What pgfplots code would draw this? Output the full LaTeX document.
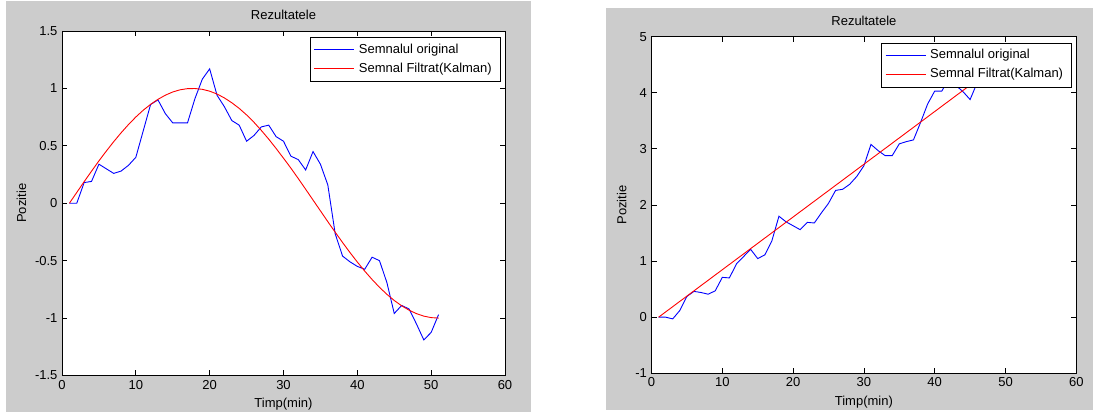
\documentclass[border=0pt]{standalone}
\usepackage{pgfplots}
\pgfplotsset{compat=1.18}
\usepackage{pgfplotstable}
\usepackage{fontspec}
\setmainfont{Liberation Sans}
\definecolor{figgray}{RGB}{204,204,204}

% left figure: noisy sine and its Kalman estimate
\pgfplotstableread{
x y
1 0
2 0
3 0.18
4 0.19
5 0.34
6 0.30
7 0.26
8 0.28
9 0.33
10 0.40
11 0.63
12 0.86
13 0.90
14 0.78
15 0.70
16 0.70
17 0.70
18 0.91
19 1.08
20 1.17
21 0.94
22 0.84
23 0.72
24 0.68
25 0.54
26 0.59
27 0.665
28 0.68
29 0.58
30 0.54
31 0.41
32 0.38
33 0.29
34 0.45
35 0.34
36 0.16
37 -0.265
38 -0.46
39 -0.51
40 -0.55
41 -0.575
42 -0.47
43 -0.50
44 -0.69
45 -0.96
46 -0.89
47 -0.92
48 -1.05
49 -1.19
50 -1.125
51 -0.97
}\leftorig

\pgfplotstableread{
x y
1 0
2 0.094
3 0.188
4 0.279
5 0.369
6 0.454
7 0.536
8 0.613
9 0.685
10 0.751
11 0.810
12 0.861
13 0.905
14 0.941
15 0.969
16 0.988
17 0.998
18 0.999
19 0.992
20 0.976
21 0.951
22 0.917
23 0.875
24 0.826
25 0.769
26 0.705
27 0.634
28 0.558
29 0.477
30 0.392
31 0.306
32 0.215
33 0.122
34 0.028
35 -0.066
36 -0.160
37 -0.252
38 -0.342
39 -0.429
40 -0.512
41 -0.591
42 -0.664
43 -0.732
44 -0.793
45 -0.847
46 -0.893
47 -0.931
48 -0.961
49 -0.983
50 -0.996
51 -1.000
}\leftkal

% right figure: noisy ramp and its Kalman estimate
\pgfplotstableread{
x y
1 0
2 0
3 -0.03
4 0.12
5 0.37
6 0.46
7 0.44
8 0.41
9 0.47
10 0.71
11 0.70
12 0.95
13 1.08
14 1.21
15 1.045
16 1.11
17 1.36
18 1.80
19 1.70
20 1.63
21 1.56
22 1.69
23 1.68
24 1.86
25 2.03
26 2.26
27 2.28
28 2.37
29 2.51
30 2.70
31 3.08
32 2.97
33 2.88
34 2.88
35 3.09
36 3.13
37 3.16
38 3.47
39 3.80
40 4.03
41 4.03
42 4.25
43 4.13
44 4.02
45 3.88
46 4.18
47 4.35
48 4.45
49 4.55
50 4.62
51 4.70
}\rightorig

\pgfplotstableread{
x y
1 0
2 0.094
3 0.188
4 0.282
5 0.376
6 0.470
7 0.564
8 0.658
9 0.752
10 0.846
11 0.940
12 1.034
13 1.128
14 1.222
15 1.316
16 1.410
17 1.504
18 1.598
19 1.692
20 1.786
21 1.880
22 1.974
23 2.068
24 2.162
25 2.256
26 2.350
27 2.444
28 2.538
29 2.632
30 2.726
31 2.820
32 2.914
33 3.008
34 3.102
35 3.196
36 3.290
37 3.384
38 3.478
39 3.572
40 3.666
41 3.760
42 3.854
43 3.948
44 4.042
45 4.136
46 4.230
47 4.324
48 4.418
49 4.512
50 4.606
51 4.700
}\rightkal

\pgfplotsset{matfig/.style={
  scale only axis, anchor=south west,
  xmin=0, xmax=60, xtick={0,10,20,30,40,50,60},
  tick align=inside, major tick length=5pt,
  tick style={black, line width=0.8pt},
  axis line style={line width=0.8pt},
  axis background/.style={fill=white},
  /pgf/number format/assume math mode=true,
  title={Rezultatele}, xlabel={Timp(min)}, ylabel={Pozitie},
  title style={yshift=1pt},
  legend style={at={(1,1)}, anchor=north east, xshift=-5pt, yshift=-6pt,
    draw=black, fill=white, inner xsep=4pt, inner ysep=3pt, row sep=0pt,
    nodes={inner xsep=4pt, inner ysep=3.5pt, text height=9.5pt, text depth=2.5pt}},
  legend cell align=left,
  legend image code/.code={\draw[#1] (4pt,0pt) -- (44pt,0pt);},
  every axis plot/.append style={line width=0.9pt, no markers},
}}

\begin{document}
\fontsize{13pt}{15pt}\selectfont
\begin{tikzpicture}
\fill[white] (0pt,0pt) rectangle (1098pt,414pt);
\fill[figgray] (6pt,2pt) rectangle (531pt,413pt);
\fill[figgray] (606pt,4pt) rectangle (1093pt,406pt);

\begin{axis}[matfig, at={(62pt,38.5pt)}, width=443pt, height=344.5pt,
  ymin=-1.5, ymax=1.5, ytick={-1.5,-1,-0.5,0,0.5,1,1.5}]
\addplot[blue] table {\leftorig};
\addplot[red] table {\leftkal};
\legend{Semnalul original, Semnal Filtrat(Kalman)}
\end{axis}

\begin{axis}[matfig, at={(651.5pt,40.7pt)}, width=424.8pt, height=336.6pt,
  ymin=-1, ymax=5, ytick={-1,0,1,2,3,4,5}]
\addplot[blue] table {\rightorig};
\addplot[red] table {\rightkal};
\legend{Semnalul original, Semnal Filtrat(Kalman)}
\end{axis}
\end{tikzpicture}
\end{document}
